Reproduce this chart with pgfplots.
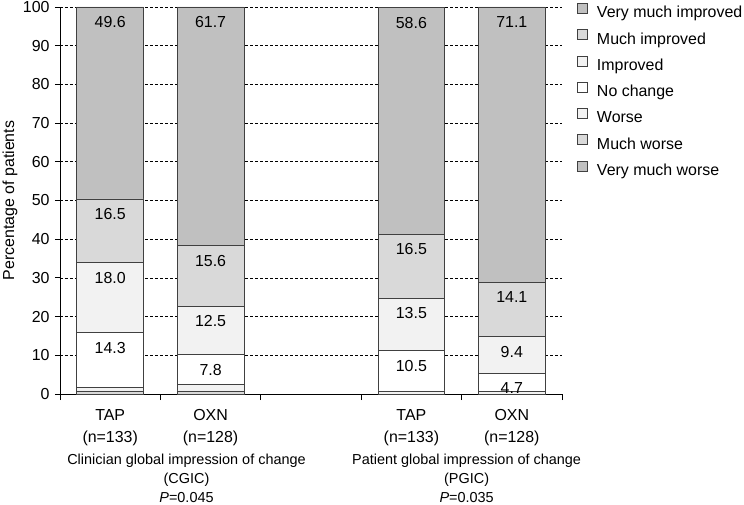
\documentclass[border=0pt]{standalone}
\usepackage{fontspec}
\setmainfont{Liberation Sans}
\usepackage{pgfplots}
\pgfplotsset{compat=1.18}

\definecolor{cdark}{HTML}{C0C0C0}
\definecolor{cmid}{HTML}{D9D9D9}
\definecolor{clight}{HTML}{F2F2F2}
\definecolor{edge}{HTML}{404040}

\newcommand\bigf{\fontsize{16}{20}\selectfont}
\newcommand\grpf{\fontsize{14.5}{18.5}\selectfont}

\begin{document}
\bigf
\begin{tikzpicture}[font=\bigf]
\useasboundingbox (-60bp,-111bp) rectangle (684bp,394bp);
\begin{axis}[
  scale only axis, width=502bp, height=387bp,
  ybar stacked, bar width=0.665,
  xmin=-0.5, xmax=4.5, ymin=0, ymax=100,
  axis x line=bottom, axis y line=left,
  axis line style={-, black, line width=0.8bp},
  tick align=outside,
  tick style={black, line width=0.8bp},
  tick label style={font=\bigf},
  xtick={0,1,3,4},
  xticklabels={{TAP\\[2bp](n=133)},{OXN\\[2bp](n=128)},{TAP\\[2bp](n=133)},{OXN\\[2bp](n=128)}},
  xticklabel style={align=center, yshift=-5bp},
  major x tick style={draw=none},
  minor xtick={-0.5,0.5,1.5,2.5,3.5,4.5},
  minor tick length=6bp,
  ytick={0,10,...,100}, major tick length=5bp,
  ymajorgrids,
  grid style={black, dash pattern=on 3bp off 2bp, line width=0.6bp},
  ylabel={Percentage of patients},
  every axis y label/.style={at={(rel axis cs:0,0.5)}, rotate=90, anchor=center,
    yshift=50bp, font=\bigf},
  /pgf/number format/assume math mode=true,
  clip=false,
  every axis plot/.append style={draw=edge, line width=0.8bp},
  visualization depends on={rawy \as \segh},
  every node near coord/.append style={anchor=north, font=\bigf, text=black,
    yshift={\segh*1.9423pt-4pt}},
  legend image code/.code={\draw[#1] (0bp,0bp) rectangle (10bp,10bp);},
  reverse legend,
  legend cell align=left,
  legend style={at={(rel axis cs:1,1)}, anchor=north west, xshift=15bp, yshift=4bp,
    draw=none, fill=none, inner sep=0pt, row sep=8.1bp, column sep=9bp, font=\bigf,
    nodes={inner sep=0pt, text height=12bp, text depth=3.5bp}},
]
% bottom to top: very much worse ... very much improved
\addplot[fill=cdark] coordinates {(0,0) (1,0) (3,0) (4,0)};
\addplot[fill=cmid] coordinates {(0,0.8) (1,0.8) (3,0) (4,0)};
\addplot[fill=clight] coordinates {(0,0.8) (1,1.6) (3,0.8) (4,0.7)};
\addplot[fill=white, nodes near coords={\pgfmathprintnumber[fixed,fixed zerofill,precision=1]{\pgfplotspointmeta}}]
  coordinates {(0,14.3) (1,7.8) (3,10.5) (4,4.7)};
\addplot[fill=clight, nodes near coords={\pgfmathprintnumber[fixed,fixed zerofill,precision=1]{\pgfplotspointmeta}}]
  coordinates {(0,18.0) (1,12.5) (3,13.5) (4,9.4)};
\addplot[fill=cmid, nodes near coords={\pgfmathprintnumber[fixed,fixed zerofill,precision=1]{\pgfplotspointmeta}}]
  coordinates {(0,16.5) (1,15.6) (3,16.5) (4,14.1)};
\addplot[fill=cdark, nodes near coords={\pgfmathprintnumber[fixed,fixed zerofill,precision=1]{\pgfplotspointmeta}}]
  coordinates {(0,49.6) (1,61.7) (3,58.6) (4,71.1)};
\legend{Very much worse, Much worse, Worse, No change, Improved, Much improved, Very much improved}

\node[anchor=north, align=center, inner sep=0pt, font=\grpf] at (axis cs:0.76,0) [yshift=-60bp]
  {Clinician global impression of change\\[0.5bp](CGIC)\\[0.5bp]\textit{P}=0.045};
\node[anchor=north, align=center, inner sep=0pt, font=\grpf] at (axis cs:3.55,0) [yshift=-60bp]
  {Patient global impression of change\\[0.5bp](PGIC)\\[0.5bp]\textit{P}=0.035};
\end{axis}
\end{tikzpicture}
\end{document}
